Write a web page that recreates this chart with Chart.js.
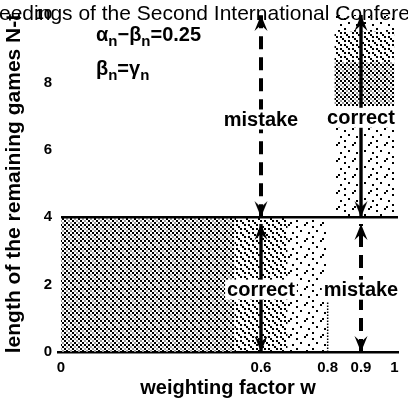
<!DOCTYPE html>
<html>
<head>
<meta charset="UTF-8">
<title>weighting factor w</title>
<script src="https://cdn.jsdelivr.net/npm/chart.js"></script>
<style>
  html, body { margin: 0; padding: 0; background: #fff; }
  #wrap { width: 408px; height: 400px; position: relative; }
</style>
</head>
<body>
<div id="wrap"><canvas id="chart"></canvas></div>
<script>
// ticks
var xTicks = [0, 0.6, 0.8, 0.9, 1];
var yTicks = [0, 2, 4, 6, 8, 10];

// boundary line N-t = 4
var boundaryW = [0, 1.011];
var boundaryN = [4, 4];

// dotted edge of the lower stipple at w = 0.8
var edgeW = [0.8, 0.8];
var edgeN = [0, 1.5];

// stippled regions
var regionW0 = [0, 0.52, 0.68, 0.82, 0.82, 0.82, 0.82];
var regionW1 = [0.52, 0.68, 0.80, 1.0, 1.0, 1.0, 1.0];
var regionN0 = [0, 0, 0, 4, 7.3, 8.6, 9.5];
var regionN1 = [4, 4, 4, 7.3, 8.6, 9.5, 10];
var regionShade = ['dense', 'medium', 'sparse', 'sparse', 'dense', 'medium', 'sparse'];

// arrows: from = tip of down head, to = tip of up head
var arrowW = [0.6, 0.6, 0.9, 0.9];
var arrowFrom = [4, 0, 4, 0];
var arrowTo = [10, 3.8, 10, 3.8];
var arrowDashed = [true, false, false, true];

// word labels
var labelText = ['mistake', 'correct', 'correct', 'mistake'];
var labelW = [0.6, 0.6, 0.9, 0.9];
var labelN = [6.9, 1.85, 6.95, 1.85];

// formulas (baseline)
var formulaW = [0.105, 0.105];
var formulaN = [9.22, 8.22];

var FONT = '"Liberation Sans", Arial, Helvetica, sans-serif';

// halftone tiles on a 2px cell grid: x black, g grey, . white
function makePattern(rows) {
    var c = document.createElement('canvas');
    c.width = rows[0].length * 2; c.height = rows.length * 2;
    var g = c.getContext('2d');
    rows.forEach(function(r, y) {
        for (var x = 0; x < r.length; x++) {
            if (r[x] === '.') continue;
            g.fillStyle = r[x] === 'x' ? '#000' : '#999';
            g.fillRect(x * 2, y * 2, 2, 2);
        }
    });
    return g.createPattern(c, 'repeat');
}

var shades = {
    dense: makePattern(['x.x.', '.g.x', 'x.g.', '.x.g']),
    medium: makePattern(['x.x...', '...x..', 'x...x.', '.x....', '..x.x.', '.....x']),
    sparse: makePattern(['x.......', '....x...', '........', '......x.', '..x.....', '........', '....x...', '.x......'])
};

// arrow head image, tip at the centre of the canvas
function makeHead() {
    var c = document.createElement('canvas');
    c.width = 16; c.height = 34;
    var g = c.getContext('2d');
    g.fillStyle = '#000';
    g.beginPath();
    g.moveTo(8, 17);
    g.lineTo(14.5, 33);
    g.lineTo(8, 27);
    g.lineTo(1.5, 33);
    g.closePath();
    g.fill();
    return c;
}
var head = makeHead();

var datasets = [];

// arrows
for (var i = 0; i < arrowW.length; i++) {
    datasets.push({
        data: [{x: arrowW[i], y: arrowFrom[i]}, {x: arrowW[i], y: arrowTo[i]}],
        borderColor: '#000',
        borderWidth: arrowDashed[i] ? 4 : 3.4,
        borderDash: arrowDashed[i] ? [13, 8] : [],
        pointStyle: head,
        pointRadius: 6,
        pointRotation: [180, 0],
        fill: false,
        clip: false,
        order: 0
    });
}

datasets.push({
    data: boundaryW.map(function(w, k) { return {x: w, y: boundaryN[k]}; }),
    borderColor: '#000',
    borderWidth: 2.5,
    pointRadius: 0,
    fill: false,
    order: 1
});

datasets.push({
    data: edgeW.map(function(w, k) { return {x: w, y: edgeN[k]}; }),
    borderColor: '#000',
    borderWidth: 1.5,
    borderDash: [1.5, 1.5],
    pointRadius: 0,
    fill: false,
    order: 1
});

for (var j = 0; j < regionW0.length; j++) {
    datasets.push({
        data: [{x: regionW0[j], y: regionN1[j]}, {x: regionW1[j], y: regionN1[j]}],
        borderWidth: 0,
        borderColor: 'rgba(0,0,0,0)',
        backgroundColor: shades[regionShade[j]],
        pointRadius: 0,
        fill: {value: regionN0[j]},
        order: 5
    });
}

// words with white box behind, formulas and page header
var labelPlugin = {
    id: 'labels',
    afterDatasetsDraw: function(chart) {
        var ctx = chart.ctx, xs = chart.scales.x, ys = chart.scales.y;
        ctx.save();
        ctx.font = 'bold 20px ' + FONT;
        ctx.textAlign = 'center';
        ctx.textBaseline = 'middle';
        for (var k = 0; k < labelText.length; k++) {
            var px = xs.getPixelForValue(labelW[k]);
            var py = ys.getPixelForValue(labelN[k]);
            var w = ctx.measureText(labelText[k]).width;
            ctx.fillStyle = '#fff';
            ctx.fillRect(px - w / 2 - 2, py - 10, w + 4, 20);
            ctx.fillStyle = '#000';
            ctx.fillText(labelText[k], px, py + 1);
        }
        ctx.restore();
    },
    afterDraw: function(chart) {
        var ctx = chart.ctx, xs = chart.scales.x, ys = chart.scales.y;
        ctx.save();
        ctx.fillStyle = '#000';
        ctx.textBaseline = 'alphabetic';
        var formulas = [
            [['\u03b1', 0], ['n', 1], ['\u2212\u03b2', 0], ['n', 1], ['=0.25', 0]],
            [['\u03b2', 0], ['n', 1], ['=\u03b3', 0], ['n', 1]]
        ];
        for (var f = 0; f < formulas.length; f++) {
            var x = xs.getPixelForValue(formulaW[f]);
            var y = ys.getPixelForValue(formulaN[f]);
            formulas[f].forEach(function(p) {
                ctx.font = p[1] ? 'bold 15px ' + FONT : 'bold 20px ' + FONT;
                ctx.fillText(p[0], x, p[1] ? y + 5 : y);
                x += ctx.measureText(p[0]).width;
            });
        }
        // running header of the scanned page
        ctx.font = '21px ' + FONT;
        var off = ctx.measureText('Proc').width;
        ctx.fillText('Proceedings of the Second International Conference', -off - 1, 20);
        ctx.restore();
    }
};

new Chart(document.getElementById('chart'), {
    type: 'line',
    data: {datasets: datasets},
    plugins: [labelPlugin],
    options: {
        responsive: true,
        maintainAspectRatio: false,
        animation: false,
        layout: {padding: {top: 12, right: 0, left: 0, bottom: 0}},
        plugins: {legend: {display: false}, tooltip: {enabled: false}},
        scales: {
            x: {
                type: 'linear',
                min: -0.009,
                max: 1.011,
                afterBuildTicks: function(s) { s.ticks = xTicks.map(function(v) { return {value: v}; }); },
                afterFit: function(s) { s.height = 48; },
                grid: {display: false, drawTicks: false},
                border: {display: true, color: '#000', width: 2.5},
                ticks: {
                    color: '#000', padding: 7, maxRotation: 0, autoSkip: false,
                    font: {family: FONT, weight: 'bold', size: 15},
                    callback: function(v) { return String(v); }
                },
                title: {
                    display: true, text: 'weighting factor w', color: '#000',
                    font: {family: FONT, weight: 'bold', size: 20},
                    padding: {top: 0, bottom: 0}
                }
            },
            y: {
                min: 0,
                max: 10,
                afterBuildTicks: function(s) { s.ticks = yTicks.map(function(v) { return {value: v}; }); },
                afterFit: function(s) { s.width = 58; },
                grid: {display: false, drawTicks: false},
                border: {display: false},
                ticks: {
                    color: '#000', padding: 6,
                    font: {family: FONT, weight: 'bold', size: 15}
                },
                title: {
                    display: true, text: 'length of the remaining games N-t', color: '#000',
                    font: {family: FONT, weight: 'bold', size: 21},
                    padding: {top: 2, bottom: 0}
                }
            }
        }
    }
});
</script>
</body>
</html>
